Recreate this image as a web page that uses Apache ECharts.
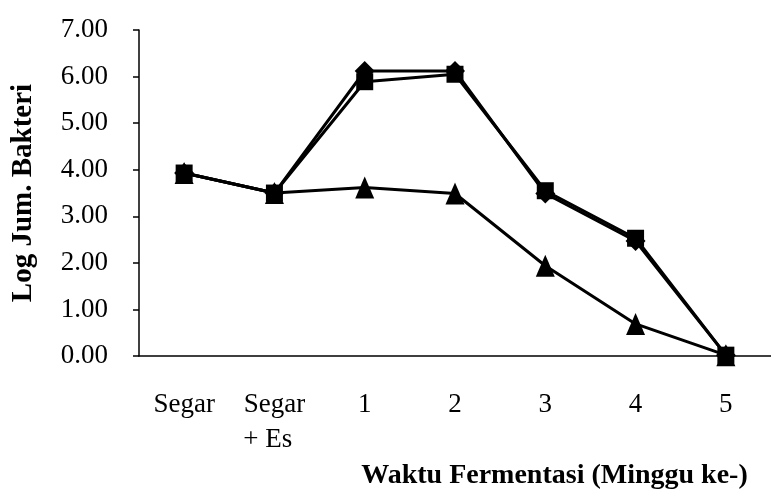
<!DOCTYPE html>
<html>
<head>
<meta charset="utf-8">
<script src="https://cdn.jsdelivr.net/npm/echarts@6/dist/echarts.min.js"></script>
<style>
  html, body { margin: 0; padding: 0; background: #fff; }
  #chart { width: 771px; height: 495px; }
</style>
</head>
<body>
<div id="chart"></div>
<script>
// data
var categories = ['Segar', 'Segar\n+ Es  ', '1', '2', '3', '4', '5'];
var diamondValues = [3.93, 3.50, 6.12, 6.12, 3.49, 2.47, 0.02];
var squareValues = [3.93, 3.50, 5.89, 6.05, 3.55, 2.53, 0.02];
var triangleValues = [3.93, 3.50, 3.62, 3.49, 1.94, 0.69, 0.02];

var serif = 'Liberation Serif';

var myChart = echarts.init(document.getElementById('chart'));

function line(name, symbol, size, data) {
    return {
        name: name,
        type: 'line',
        data: data,
        symbol: symbol,
        symbolSize: size,
        lineStyle: { color: '#000', width: 3 },
        itemStyle: { color: '#000' },
        animation: false
    };
}

var option = {
    backgroundColor: '#fff',
    grid: {
        left: 139,
        top: 30,
        width: 642,
        height: 355
    },
    xAxis: {
        type: 'category',
        data: categories,
        boundaryGap: true,
        axisLine: { lineStyle: { color: '#000', width: 1.5 } },
        axisTick: { alignWithLabel: true, length: 8, inside: false, lineStyle: { color: '#000', width: 1.5 } },
        axisLabel: {
            color: '#000',
            fontFamily: serif,
            fontSize: 27,
            margin: 31,
            lineHeight: 35,
            verticalAlign: 'top'
        },
        name: 'Waktu Fermentasi (Minggu ke-)',
        nameLocation: 'middle',
        nameGap: 78,
        nameTextStyle: {
            color: '#000',
            fontFamily: serif,
            fontWeight: 'bold',
            fontSize: 28,
            padding: [0, 0, 0, 199]
        }
    },
    yAxis: {
        type: 'value',
        min: 0,
        max: 7,
        interval: 1,
        axisLine: { show: true, lineStyle: { color: '#000', width: 1.5 } },
        axisTick: { show: true, length: 6, lineStyle: { color: '#000', width: 1.5 } },
        splitLine: { show: false },
        axisLabel: {
            color: '#000',
            fontFamily: serif,
            fontSize: 27,
            margin: 31,
            formatter: function (v) { return v.toFixed(2); }
        },
        name: 'Log Jum. Bakteri',
        nameLocation: 'middle',
        nameGap: 101,
        nameRotate: 90,
        nameTextStyle: {
            color: '#000',
            fontFamily: serif,
            fontWeight: 'bold',
            fontSize: 29
        }
    },
    series: [
        line('Diamond', 'diamond', 20, diamondValues),
        line('Square', 'rect', 17, squareValues),
        line('Triangle', 'triangle', [19, 22], triangleValues)
    ]
};

myChart.setOption(option);
</script>
</body>
</html>
